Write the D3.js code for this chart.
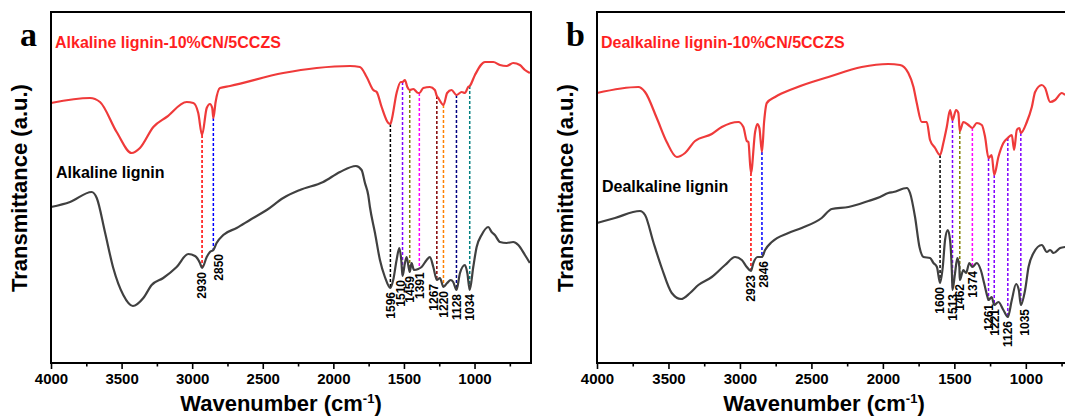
<!DOCTYPE html>
<html>
<head>
<meta charset="utf-8">
<script src="https://cdn.jsdelivr.net/npm/d3@7/dist/d3.min.js"></script>
<style>
  body { margin: 0; background: #fff; }
  svg { display: block; }
  text { font-family: "Liberation Sans", Arial, sans-serif; font-weight: bold; }
</style>
</head>
<body>
<svg id="chart" width="1065" height="417"></svg>
<script>

// axis ticks (cm-1)
var xTicks = [4000, 3500, 3000, 2500, 2000, 1500, 1000];
var xMinorTicks = [3750, 3250, 2750, 2250, 1750, 1250, 750];

// [wavenumber, transmittance (a.u.)]
var alkCompositeSpectrum = [
  [4000, 260], [3724, 265], [3653, 261], [3535, 231], [3429, 210], [3370, 215],
  [3275, 236], [3181, 246], [3039, 261], [2992, 260], [2957, 250], [2930, 228],
  [2897, 255], [2874, 259], [2858, 255], [2850, 245], [2834, 261], [2803, 275],
  [2732, 277], [2355, 290], [2118, 295], [1882, 297], [1812, 296], [1764, 286],
  [1717, 273], [1693, 271], [1658, 256], [1611, 240], [1596, 239], [1587, 243],
  [1552, 270], [1523, 281], [1510, 281], [1493, 283], [1476, 276], [1459, 273],
  [1434, 274], [1399, 270], [1391, 270], [1363, 275], [1316, 276], [1281, 273],
  [1267, 267], [1257, 265], [1220, 258], [1194, 270], [1163, 273], [1128, 268],
  [1091, 271], [1068, 270], [1045, 276], [1034, 277], [997, 288], [926, 301],
  [867, 301], [820, 298], [773, 297], [726, 300], [679, 298], [643, 293], [608, 290]
];

var alkLigninSpectrum = [
  [4000, 156], [3865, 161], [3712, 171], [3676, 165], [3618, 131], [3559, 95],
  [3488, 68], [3420, 57], [3346, 65], [3287, 78], [3205, 85], [3110, 96],
  [3028, 109], [2980, 107], [2945, 100], [2930, 95], [2897, 106], [2874, 111],
  [2850, 113], [2827, 120], [2780, 128], [2685, 135], [2591, 143], [2472, 153],
  [2355, 165], [2237, 173], [2072, 181], [1953, 191], [1840, 197], [1800, 193],
  [1776, 180], [1753, 168], [1741, 156], [1705, 130], [1670, 103], [1635, 86],
  [1596, 75], [1576, 83], [1552, 103], [1533, 115], [1519, 103], [1510, 87],
  [1493, 100], [1481, 106], [1459, 91], [1446, 100], [1429, 93], [1399, 94],
  [1375, 96], [1339, 103], [1316, 106], [1292, 96], [1267, 83], [1245, 85],
  [1220, 76], [1194, 80], [1169, 83], [1151, 81], [1128, 73], [1103, 90],
  [1068, 98], [1051, 90], [1034, 73], [1009, 96], [985, 116], [950, 128],
  [903, 136], [879, 131], [856, 128], [820, 121], [773, 120], [726, 121],
  [690, 118], [643, 108], [608, 100]
];

var dealkCompositeSpectrum = [
  [4000, 270], [3711, 276], [3664, 271], [3582, 245], [3512, 221], [3442, 206],
  [3384, 210], [3314, 222], [3197, 229], [3127, 236], [3011, 241], [2976, 236],
  [2952, 222], [2941, 221], [2923, 190], [2894, 231], [2878, 239], [2864, 235],
  [2846, 211], [2831, 241], [2812, 260], [2754, 266], [2614, 275], [2381, 286],
  [2148, 296], [1962, 299], [1880, 298], [1822, 290], [1786, 276], [1763, 260],
  [1728, 241], [1693, 241], [1670, 223], [1635, 215], [1600, 208], [1577, 220],
  [1553, 236], [1530, 253], [1513, 243], [1488, 253], [1472, 250], [1462, 232],
  [1437, 241], [1402, 238], [1374, 235], [1343, 240], [1308, 238], [1285, 226],
  [1261, 205], [1239, 208], [1221, 188], [1192, 206], [1157, 220], [1126, 225],
  [1098, 228], [1082, 213], [1063, 233], [1045, 235], [1035, 230], [993, 241],
  [958, 256], [935, 271], [888, 278], [865, 275], [830, 261], [795, 263],
  [748, 270], [725, 268]
];

var dealkLigninSpectrum = [
  [4000, 140], [3874, 145], [3699, 152], [3664, 148], [3606, 121], [3547, 95],
  [3477, 70], [3412, 64], [3349, 70], [3291, 78], [3197, 86], [3104, 98],
  [3034, 106], [2987, 103], [2952, 96], [2923, 92], [2906, 100], [2876, 106],
  [2846, 106], [2824, 113], [2777, 121], [2661, 130], [2568, 135], [2428, 145],
  [2358, 154], [2241, 156], [2101, 162], [2020, 166], [1962, 170], [1926, 171],
  [1833, 175], [1810, 170], [1775, 146], [1744, 116], [1716, 106], [1670, 105],
  [1646, 100], [1622, 96], [1600, 80], [1581, 96], [1565, 123], [1546, 133],
  [1530, 123], [1517, 90], [1513, 73], [1495, 90], [1479, 105], [1465, 96],
  [1462, 83], [1437, 93], [1418, 90], [1395, 100], [1374, 96], [1343, 100],
  [1315, 93], [1292, 80], [1268, 66], [1261, 63], [1239, 66], [1221, 58],
  [1192, 61], [1157, 53], [1126, 46], [1098, 63], [1068, 79], [1049, 73],
  [1035, 58], [1005, 73], [981, 96], [946, 110], [888, 118], [853, 111],
  [830, 113], [806, 110], [760, 115], [725, 116]
];

// assigned bands (cm-1)
var alkPeaks = [2930, 2850, 1596, 1510, 1459, 1391, 1267, 1220, 1128, 1034];
var dealkPeaks = [2923, 2846, 1600, 1513, 1462, 1374, 1261, 1221, 1126, 1035];

var alkPeakColors = ['#ff0000', '#0000ff', '#000000', '#8000ff', '#808000',
  '#ff00ff', '#800000', '#ff8000', '#000080', '#008080'];
var dealkPeakColors = ['#ff0000', '#0000ff', '#000000', '#8000ff', '#808000',
  '#ff00ff', '#8000ff', '#8000ff', '#8000ff', '#8000ff'];

var svg = d3.select('#chart');

drawPanel({
  left: 51, right: 531, letter: 'a',
  composite: alkCompositeSpectrum, lignin: alkLigninSpectrum,
  compositeName: 'Alkaline lignin-10%CN/5CCZS', ligninName: 'Alkaline lignin',
  ligninNameY: 178, peaks: alkPeaks, colors: alkPeakColors,
  nudge: { 2850: 5, 1267: -3, 1510: -2 }, titleX: 281
});

drawPanel({
  left: 597, right: 1083, letter: 'b',
  composite: dealkCompositeSpectrum, lignin: dealkLigninSpectrum,
  compositeName: 'Dealkaline lignin-10%CN/5CCZS', ligninName: 'Dealkaline lignin',
  ligninNameY: 192, peaks: dealkPeaks, colors: dealkPeakColors,
  nudge: { 2846: 2, 1035: 4 }, titleX: 824
});

function drawPanel(cfg) {

  var top = 12, bottom = 363;

  var x = d3.scaleLinear()
      .domain([4000, 600])
      .range([cfg.left, cfg.right]);

  var y = d3.scaleLinear()
      .domain([0, 351])
      .range([bottom, top]);

  var line = d3.line()
      .x(function (d) { return x(d[0]); })
      .y(function (d) { return y(d[1]); })
      .curve(d3.curveMonotoneX);

  // value of a spectrum at a wavenumber (linear between points)
  function valueAt(spectrum, wn) {
    for (var i = 0; i < spectrum.length - 1; i++) {
      var a = spectrum[i], b = spectrum[i + 1];
      if (wn <= a[0] && wn >= b[0]) {
        var t = (a[0] - wn) / (a[0] - b[0]);
        return a[1] + t * (b[1] - a[1]);
      }
    }
    return spectrum[spectrum.length - 1][1];
  }

  var g = svg.append('g');

  // dashed guide lines between the two spectra
  g.selectAll('line.guide')
      .data(cfg.peaks)
      .enter()
    .append('line')
      .attr('class', 'guide')
      .attr('x1', function (d) { return x(d); })
      .attr('x2', function (d) { return x(d); })
      .attr('y1', function (d) { return y(valueAt(cfg.composite, d)); })
      .attr('y2', function (d) { return y(valueAt(cfg.lignin, d)); })
      .attr('stroke', function (d, i) { return cfg.colors[i]; })
      .attr('stroke-width', 1.5)
      .attr('stroke-dasharray', '3,2');

  g.append('path')
      .datum(cfg.composite)
      .attr('d', line)
      .attr('fill', 'none')
      .attr('stroke', '#ef3a3a')
      .attr('stroke-width', 2.2)
      .attr('stroke-linejoin', 'round');

  g.append('path')
      .datum(cfg.lignin)
      .attr('d', line)
      .attr('fill', 'none')
      .attr('stroke', '#404040')
      .attr('stroke-width', 2.2)
      .attr('stroke-linejoin', 'round');

  // band labels
  g.selectAll('text.peak')
      .data(cfg.peaks)
      .enter()
    .append('text')
      .attr('class', 'peak')
      .attr('transform', function (d) {
        var px = x(d) + (cfg.nudge[d] || 0);
        var py = y(valueAt(cfg.lignin, d)) + 4;
        return 'translate(' + px + ',' + py + ') rotate(-90)';
      })
      .attr('dy', '0.36em')
      .attr('text-anchor', 'end')
      .style('font-size', '12px')
      .text(function (d) { return d; });

  // frame
  g.append('rect')
      .attr('x', cfg.left)
      .attr('y', top)
      .attr('width', cfg.right - cfg.left)
      .attr('height', bottom - top)
      .attr('fill', 'none')
      .attr('stroke', '#000')
      .attr('stroke-width', 2);

  var xAxis = d3.axisBottom(x)
      .tickValues(xTicks)
      .tickFormat(d3.format('d'))
      .tickSize(6)
      .tickSizeOuter(0)
      .tickPadding(4);

  var axisG = g.append('g')
      .attr('transform', 'translate(0,' + bottom + ')')
      .call(xAxis);
  axisG.select('.domain').remove();
  axisG.selectAll('line').attr('stroke-width', 1.6);
  axisG.selectAll('text')
      .style('font-size', '15px')
      .style('font-family', '"Liberation Sans", Arial, sans-serif')
      .style('font-weight', 'bold')
      .attr('fill', '#000');

  var minorG = g.append('g')
      .attr('transform', 'translate(0,' + bottom + ')')
      .call(d3.axisBottom(x).tickValues(xMinorTicks).tickSize(3.5).tickFormat(''));
  minorG.select('.domain').remove();
  minorG.selectAll('line').attr('stroke-width', 1.6);

  // names
  g.append('text')
      .attr('x', cfg.left + 4)
      .attr('y', 48)
      .attr('fill', '#ff1f1f')
      .style('font-size', '16px')
      .text(cfg.compositeName);

  g.append('text')
      .attr('x', cfg.left + 5)
      .attr('y', cfg.ligninNameY)
      .attr('fill', '#000')
      .style('font-size', '16px')
      .text(cfg.ligninName);

  // panel letter
  g.append('text')
      .attr('x', cfg.left - 31)
      .attr('y', 46)
      .style('font-family', '"Liberation Serif", "Times New Roman", serif')
      .style('font-size', '34px')
      .text(cfg.letter);

  // axis titles
  g.append('text')
      .attr('transform', 'translate(' + (cfg.left - 24) + ',188) rotate(-90)')
      .attr('text-anchor', 'middle')
      .style('font-size', '22px')
      .text('Transmittance (a.u.)');

  var xt = g.append('text')
      .attr('x', cfg.titleX)
      .attr('y', 411)
      .attr('text-anchor', 'middle')
      .style('font-size', '22px');
  xt.append('tspan').text('Wavenumber (cm');
  xt.append('tspan').attr('dy', -8).style('font-size', '13px').text('-1');
  xt.append('tspan').attr('dy', 8).text(')');
}
</script>
</body>
</html>
